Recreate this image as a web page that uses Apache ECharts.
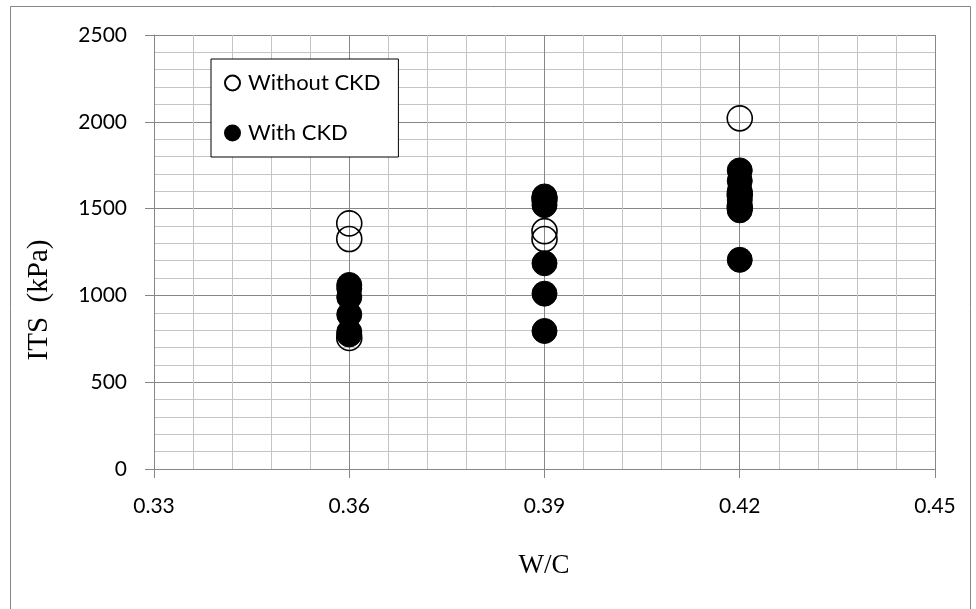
<!DOCTYPE html>
<html>
<head>
<meta charset="utf-8">
<script src="https://cdn.jsdelivr.net/npm/echarts@6/dist/echarts.min.js"></script>
<style>
html,body{margin:0;padding:0;background:#fff;}
#chart{width:976px;height:609px;}
</style>
</head>
<body>
<div id="chart"></div>
<script>
// W/C ratio groups
var wcValues = [0.36, 0.39, 0.42];
// ITS (kPa) values per W/C group
var withoutCKD_036 = [1415, 1325, 755];
var withoutCKD_039 = [1555, 1370, 1325];
var withoutCKD_042 = [2020, 1580, 1510];
var withCKD_036 = [1060, 1040, 990, 890, 790, 775];
var withCKD_039 = [1570, 1520, 1185, 1010, 795];
var withCKD_042 = [1720, 1660, 1600, 1550, 1500, 1490, 1205];
var seriesNames = ['Without CKD', 'With CKD'];
var xTitle = 'W/C';
var yTitle = 'ITS  (kPa)';

function pairs(groups) {
  var out = [];
  groups.forEach(function (g, i) {
    g.forEach(function (v) { out.push([wcValues[i], v]); });
  });
  return out;
}
var withoutData = pairs([withoutCKD_036, withoutCKD_039, withoutCKD_042]);
var withData = pairs([withCKD_036, withCKD_039, withCKD_042]);

var chart = echarts.init(document.getElementById('chart'), null, {renderer: 'canvas'});
var labelFont = 'Lato, "Open Sans", sans-serif';
var option = {
  animation: false,
  backgroundColor: '#fff',
  grid: {left: 154, right: 41, top: 35, bottom: 140, containLabel: false},
  xAxis: {
    type: 'value', min: 0.33, max: 0.45, interval: 0.03,
    axisLine: {show: true, onZero: false, lineStyle: {color: '#868686', width: 1}},
    axisTick: {show: true, inside: false, length: 9, lineStyle: {color: '#868686'}},
    minorTick: {show: false, splitNumber: 5},
    axisLabel: {color: '#000', fontFamily: labelFont, fontSize: 21, margin: 27,
      formatter: function (v) { return v.toFixed(2); }},
    splitLine: {show: true, lineStyle: {color: '#878787', width: 1}},
    minorSplitLine: {show: true, lineStyle: {color: '#c4c4c4', width: 1}}
  },
  yAxis: {
    type: 'value', min: 0, max: 2500, interval: 500,
    axisLine: {show: true, lineStyle: {color: '#868686', width: 1}},
    axisTick: {show: true, inside: false, length: 9, lineStyle: {color: '#868686'}},
    minorTick: {show: false, splitNumber: 5},
    axisLabel: {color: '#000', fontFamily: labelFont, fontSize: 21, margin: 27,
      formatter: function (v) { return String(v); }},
    splitLine: {show: true, lineStyle: {color: '#878787', width: 1}},
    minorSplitLine: {show: true, lineStyle: {color: '#c4c4c4', width: 1}}
  },
  legend: {
    show: true, orient: 'vertical', left: 211, top: 59,
    backgroundColor: '#fff', borderColor: '#000', borderWidth: 1,
    padding: [13, 18, 13, 13], itemGap: 28, itemWidth: 15, itemHeight: 15,
    textStyle: {color: '#000', fontFamily: labelFont, fontSize: 22, padding: [0, 0, 0, 3]},
    data: [
      {name: seriesNames[0], icon: 'circle'},
      {name: seriesNames[1], icon: 'circle'}
    ]
  },
  series: [
    {
      name: seriesNames[0], type: 'scatter', data: withoutData, symbol: 'circle', symbolSize: 25,
      itemStyle: {color: 'rgba(255,255,255,0)', borderColor: '#000', borderWidth: 1.6, opacity: 1},
      z: 2
    },
    {
      name: seriesNames[1], type: 'scatter', data: withData, symbol: 'circle', symbolSize: 25,
      itemStyle: {color: '#000', borderColor: '#000', borderWidth: 1, opacity: 1},
      z: 3
    }
  ],
  graphic: [
    {type: 'rect', left: 8, top: 4, shape: {x: 0, y: 0, width: 960, height: 620}, silent: true,
      style: {fill: 'none', stroke: '#868686', lineWidth: 1}, z: -10},
    {type: 'text', x: 39, y: 300, rotation: Math.PI / 2, silent: true,
      style: {text: yTitle, font: '29px "Liberation Serif", "DejaVu Serif", serif', fill: '#000',
        textAlign: 'center', textVerticalAlign: 'middle'}},
    {type: 'text', x: 544, y: 566, silent: true,
      style: {text: xTitle, font: '27px "Liberation Serif", "DejaVu Serif", serif', fill: '#000',
        textAlign: 'center', textVerticalAlign: 'middle'}}
  ]
};
chart.setOption(option);
</script>
</body>
</html>
